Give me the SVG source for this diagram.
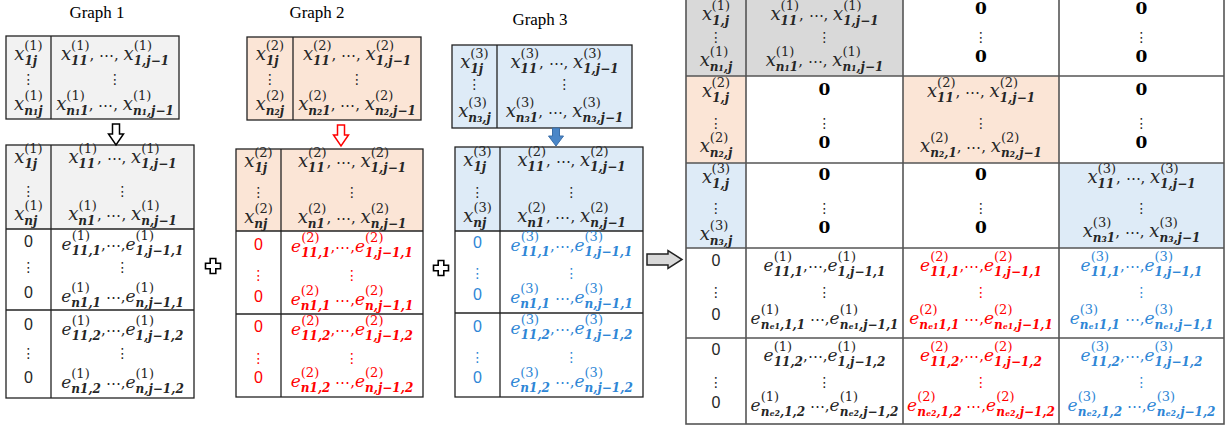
<svg xmlns="http://www.w3.org/2000/svg" width="1232" height="432" viewBox="0 0 1232 432">
<style>
text{text-anchor:middle}
.t{font-family:"Liberation Serif",serif;font-size:17px;fill:#000}
.m{font-family:"DejaVu Serif",serif;font-style:italic;font-size:18px;fill:#262626}
.e{font-size:17px}
.p{font-style:normal;font-size:13px}
.b{font-weight:bold;font-size:12px}
.s{font-style:normal;font-size:15px}
.d{font-family:"DejaVu Sans",sans-serif;font-size:14px;fill:#262626}
.z{font-family:"Liberation Sans",sans-serif;font-size:16px;fill:#262626}
.Z{font-family:"DejaVu Serif",serif;font-weight:bold;font-size:17px;fill:#000}
.r{fill:#ff0000}
.u{fill:#2e86d6}
.bx{stroke:#222;stroke-width:1.3}
.ln{stroke:#222;stroke-width:1.3}
.mx{stroke:#555;stroke-width:1.6}
.ml{stroke:#555;stroke-width:1.6}
</style>

<!-- titles -->
<text class="t" x="97" y="18">Graph 1</text>
<text class="t" x="317" y="18">Graph 2</text>
<text class="t" x="540" y="25">Graph 3</text>

<!-- Graph 1 top -->
<g id="g1-top">
<rect x="6" y="36" width="173" height="83" fill="#f2f2f2" class="bx"/>
<line x1="51" y1="36" x2="51" y2="119" class="ln"/>
<text class="m" x="28.5" y="60">x<tspan class="b" dy="5">1j</tspan><tspan class="p" dx="-12.9" dy="-15">(1)</tspan></text>
<text class="d" x="28.5" y="84">⋮</text>
<text class="m" x="28.5" y="110">x<tspan class="b" dy="5">n₁j</tspan><tspan class="p" dx="-18" dy="-15">(1)</tspan></text>
<text class="m" x="115" y="60">x<tspan class="b" dy="5">11</tspan><tspan class="p" dx="-16.7" dy="-15">(1)</tspan><tspan class="s" dy="10">, ⋯, </tspan>x<tspan class="p" dy="-10">(1)</tspan><tspan class="b" dx="-18.4" dy="15">1,j−1</tspan></text>
<text class="d" x="115" y="84">⋮</text>
<text class="m" x="115" y="110">x<tspan class="p" dy="-10">(1)</tspan><tspan class="b" dx="-18.4" dy="15">n₁1</tspan><tspan class="s" dy="-5">, ⋯, </tspan>x<tspan class="p" dy="-10">(1)</tspan><tspan class="b" dx="-18.4" dy="15">n₁,j−1</tspan></text>
</g>

<!-- Graph 1 bottom -->
<g id="g1-bottom">
<rect x="6" y="145" width="188" height="84" fill="#f2f2f2"/>
<rect x="6" y="145" width="188" height="253" fill="none" class="bx"/>
<line x1="51" y1="145" x2="51" y2="398" class="ln"/>
<line x1="6" y1="229" x2="194" y2="229" class="ln"/>
<line x1="6" y1="310" x2="194" y2="310" class="ln"/>
<text class="m" x="28.5" y="163">x<tspan class="b" dy="5">1j</tspan><tspan class="p" dx="-12.9" dy="-15">(1)</tspan></text>
<text class="d" x="28.5" y="196">⋮</text>
<text class="m" x="28.5" y="220">x<tspan class="b" dy="5">nj</tspan><tspan class="p" dx="-13" dy="-15">(1)</tspan></text>
<text class="m" x="122.5" y="163">x<tspan class="b" dy="5">11</tspan><tspan class="p" dx="-16.7" dy="-15">(1)</tspan><tspan class="s" dy="10">, ⋯, </tspan>x<tspan class="p" dy="-10">(1)</tspan><tspan class="b" dx="-18.4" dy="15">1,j−1</tspan></text>
<text class="d" x="122.5" y="196">⋮</text>
<text class="m" x="122.5" y="220">x<tspan class="b" dy="5">n1</tspan><tspan class="p" dx="-16.9" dy="-15">(1)</tspan><tspan class="s" dy="10">, ⋯, </tspan>x<tspan class="p" dy="-10">(1)</tspan><tspan class="b" dx="-18.4" dy="15">n,j−1</tspan></text>
<text class="z" x="28.5" y="247">0</text>
<text class="d" x="28.5" y="272">⋮</text>
<text class="z" x="28.5" y="298">0</text>
<text class="m e" x="122.5" y="250">e<tspan class="p" dy="-10">(1)</tspan><tspan class="b" dx="-18.4" dy="15">11,1</tspan><tspan class="s" dy="-5">,⋯,</tspan>e<tspan class="p" dy="-10">(1)</tspan><tspan class="b" dx="-18.4" dy="15">1,j−1,1</tspan></text>
<text class="d" x="122.5" y="272">⋮</text>
<text class="m e" x="122.5" y="302">e<tspan class="p" dy="-10">(1)</tspan><tspan class="b" dx="-18.4" dy="15">n1,1</tspan><tspan class="s" dy="-5"> ⋯,</tspan>e<tspan class="p" dy="-10">(1)</tspan><tspan class="b" dx="-18.4" dy="15">n,j−1,1</tspan></text>
<text class="z" x="28.5" y="330">0</text>
<text class="d" x="28.5" y="358">⋮</text>
<text class="z" x="28.5" y="383">0</text>
<text class="m e" x="122.5" y="335">e<tspan class="p" dy="-10">(1)</tspan><tspan class="b" dx="-18.4" dy="15">11,2</tspan><tspan class="s" dy="-5">,⋯,</tspan>e<tspan class="p" dy="-10">(1)</tspan><tspan class="b" dx="-18.4" dy="15">1,j−1,2</tspan></text>
<text class="d" x="122.5" y="358">⋮</text>
<text class="m e" x="122.5" y="388">e<tspan class="p" dy="-10">(1)</tspan><tspan class="b" dx="-18.4" dy="15">n1,2</tspan><tspan class="s" dy="-5"> ⋯,</tspan>e<tspan class="p" dy="-10">(1)</tspan><tspan class="b" dx="-18.4" dy="15">n,j−1,2</tspan></text>
</g>

<!-- Graph 2 top -->
<g id="g2-top">
<rect x="247" y="37" width="174" height="83" fill="#fbe5d6" class="bx"/>
<line x1="293" y1="37" x2="293" y2="120" class="ln"/>
<text class="m" x="270" y="60">x<tspan class="b" dy="5">1j</tspan><tspan class="p" dx="-12.9" dy="-15">(2)</tspan></text>
<text class="d" x="270" y="84">⋮</text>
<text class="m" x="270" y="110">x<tspan class="b" dy="5">n₂j</tspan><tspan class="p" dx="-18" dy="-15">(2)</tspan></text>
<text class="m" x="357" y="60">x<tspan class="b" dy="5">11</tspan><tspan class="p" dx="-16.7" dy="-15">(2)</tspan><tspan class="s" dy="10">, ⋯, </tspan>x<tspan class="p" dy="-10">(2)</tspan><tspan class="b" dx="-18.4" dy="15">1,j−1</tspan></text>
<text class="d" x="357" y="84">⋮</text>
<text class="m" x="357" y="110">x<tspan class="p" dy="-10">(2)</tspan><tspan class="b" dx="-18.4" dy="15">n₂1</tspan><tspan class="s" dy="-5">, ⋯, </tspan>x<tspan class="p" dy="-10">(2)</tspan><tspan class="b" dx="-18.4" dy="15">n₂,j−1</tspan></text>
</g>

<!-- Graph 2 bottom -->
<g id="g2-bottom">
<rect x="236" y="149" width="187" height="82" fill="#fbe5d6"/>
<rect x="236" y="149" width="187" height="248" fill="none" class="bx"/>
<line x1="281" y1="149" x2="281" y2="397" class="ln"/>
<line x1="236" y1="231" x2="423" y2="231" class="ln"/>
<line x1="236" y1="314" x2="423" y2="314" class="ln"/>
<text class="m" x="258.5" y="167">x<tspan class="b" dy="5">1j</tspan><tspan class="p" dx="-12.9" dy="-15">(2)</tspan></text>
<text class="d" x="258.5" y="197">⋮</text>
<text class="m" x="258.5" y="223">x<tspan class="b" dy="5">nj</tspan><tspan class="p" dx="-13" dy="-15">(2)</tspan></text>
<text class="m" x="352" y="167">x<tspan class="b" dy="5">11</tspan><tspan class="p" dx="-16.7" dy="-15">(2)</tspan><tspan class="s" dy="10">, ⋯, </tspan>x<tspan class="p" dy="-10">(2)</tspan><tspan class="b" dx="-18.4" dy="15">1,j−1</tspan></text>
<text class="d" x="352" y="197">⋮</text>
<text class="m" x="352" y="223">x<tspan class="b" dy="5">n1</tspan><tspan class="p" dx="-16.9" dy="-15">(2)</tspan><tspan class="s" dy="10">, ⋯, </tspan>x<tspan class="p" dy="-10">(2)</tspan><tspan class="b" dx="-18.4" dy="15">n,j−1</tspan></text>
<text class="z r" x="258.5" y="250">0</text>
<text class="d r" x="258.5" y="280">⋮</text>
<text class="z r" x="258.5" y="302">0</text>
<text class="m e r" x="352" y="252">e<tspan class="p" dy="-10">(2)</tspan><tspan class="b" dx="-18.4" dy="15">11,1</tspan><tspan class="s" dy="-5">,⋯,</tspan>e<tspan class="p" dy="-10">(2)</tspan><tspan class="b" dx="-18.4" dy="15">1,j−1,1</tspan></text>
<text class="d r" x="352" y="280">⋮</text>
<text class="m e r" x="352" y="305">e<tspan class="p" dy="-10">(2)</tspan><tspan class="b" dx="-18.4" dy="15">n1,1</tspan><tspan class="s" dy="-5"> ⋯,</tspan>e<tspan class="p" dy="-10">(2)</tspan><tspan class="b" dx="-18.4" dy="15">n,j−1,1</tspan></text>
<text class="z r" x="258.5" y="332">0</text>
<text class="d r" x="258.5" y="363">⋮</text>
<text class="z r" x="258.5" y="383">0</text>
<text class="m e r" x="352" y="335">e<tspan class="p" dy="-10">(2)</tspan><tspan class="b" dx="-18.4" dy="15">11,2</tspan><tspan class="s" dy="-5">,⋯,</tspan>e<tspan class="p" dy="-10">(2)</tspan><tspan class="b" dx="-18.4" dy="15">1,j−1,2</tspan></text>
<text class="d r" x="352" y="363">⋮</text>
<text class="m e r" x="352" y="387">e<tspan class="p" dy="-10">(2)</tspan><tspan class="b" dx="-18.4" dy="15">n1,2</tspan><tspan class="s" dy="-5"> ⋯,</tspan>e<tspan class="p" dy="-10">(2)</tspan><tspan class="b" dx="-18.4" dy="15">n,j−1,2</tspan></text>
</g>

<!-- Graph 3 top -->
<g id="g3-top">
<rect x="452" y="45" width="180" height="83" fill="#deebf7" class="bx"/>
<line x1="497" y1="45" x2="497" y2="128" class="ln"/>
<text class="m" x="474.5" y="68">x<tspan class="b" dy="5">1j</tspan><tspan class="p" dx="-12.9" dy="-15">(3)</tspan></text>
<text class="d" x="474.5" y="89">⋮</text>
<text class="m" x="474.5" y="117">x<tspan class="p" dy="-10">(3)</tspan><tspan class="b" dx="-18.4" dy="15">n₃,j</tspan></text>
<text class="m" x="564.5" y="68">x<tspan class="b" dy="5">11</tspan><tspan class="p" dx="-16.7" dy="-15">(3)</tspan><tspan class="s" dy="10">, ⋯, </tspan>x<tspan class="p" dy="-10">(3)</tspan><tspan class="b" dx="-18.4" dy="15">1,j−1</tspan></text>
<text class="d" x="564.5" y="89">⋮</text>
<text class="m" x="564.5" y="117">x<tspan class="p" dy="-10">(3)</tspan><tspan class="b" dx="-18.4" dy="15">n₃1</tspan><tspan class="s" dy="-5">, ⋯, </tspan>x<tspan class="p" dy="-10">(3)</tspan><tspan class="b" dx="-18.4" dy="15">n₃,j−1</tspan></text>
</g>

<!-- Graph 3 bottom -->
<g id="g3-bottom">
<rect x="455" y="147" width="188" height="84" fill="#deebf7"/>
<rect x="455" y="147" width="188" height="250" fill="none" class="bx"/>
<line x1="500" y1="147" x2="500" y2="397" class="ln"/>
<line x1="455" y1="231" x2="643" y2="231" class="ln"/>
<line x1="455" y1="313" x2="643" y2="313" class="ln"/>
<text class="m" x="477.5" y="166">x<tspan class="b" dy="5">1j</tspan><tspan class="p" dx="-12.9" dy="-15">(3)</tspan></text>
<text class="d" x="477.5" y="197">⋮</text>
<text class="m" x="477.5" y="222">x<tspan class="b" dy="5">nj</tspan><tspan class="p" dx="-13" dy="-15">(3)</tspan></text>
<text class="m" x="571.5" y="166">x<tspan class="b" dy="5">11</tspan><tspan class="p" dx="-16.7" dy="-15">(2)</tspan><tspan class="s" dy="10">, ⋯, </tspan>x<tspan class="p" dy="-10">(2)</tspan><tspan class="b" dx="-18.4" dy="15">1,j−1</tspan></text>
<text class="d" x="571.5" y="197">⋮</text>
<text class="m" x="571.5" y="222">x<tspan class="b" dy="5">n1</tspan><tspan class="p" dx="-16.9" dy="-15">(2)</tspan><tspan class="s" dy="10">, ⋯, </tspan>x<tspan class="p" dy="-10">(2)</tspan><tspan class="b" dx="-18.4" dy="15">n,j−1</tspan></text>
<text class="z u" x="477.5" y="248">0</text>
<text class="d u" x="477.5" y="278">⋮</text>
<text class="z u" x="477.5" y="300">0</text>
<text class="m e u" x="571.5" y="251">e<tspan class="p" dy="-10">(3)</tspan><tspan class="b" dx="-18.4" dy="15">11,1</tspan><tspan class="s" dy="-5">,⋯,</tspan>e<tspan class="p" dy="-10">(3)</tspan><tspan class="b" dx="-18.4" dy="15">1,j−1,1</tspan></text>
<text class="d u" x="571.5" y="278">⋮</text>
<text class="m e u" x="571.5" y="303">e<tspan class="p" dy="-10">(3)</tspan><tspan class="b" dx="-18.4" dy="15">n1,1</tspan><tspan class="s" dy="-5"> ⋯,</tspan>e<tspan class="p" dy="-10">(3)</tspan><tspan class="b" dx="-18.4" dy="15">n,j−1,1</tspan></text>
<text class="z u" x="477.5" y="332">0</text>
<text class="d u" x="477.5" y="362">⋮</text>
<text class="z u" x="477.5" y="383">0</text>
<text class="m e u" x="571.5" y="334">e<tspan class="p" dy="-10">(3)</tspan><tspan class="b" dx="-18.4" dy="15">11,2</tspan><tspan class="s" dy="-5">,⋯,</tspan>e<tspan class="p" dy="-10">(3)</tspan><tspan class="b" dx="-18.4" dy="15">1,j−1,2</tspan></text>
<text class="d u" x="571.5" y="362">⋮</text>
<text class="m e u" x="571.5" y="387">e<tspan class="p" dy="-10">(3)</tspan><tspan class="b" dx="-18.4" dy="15">n1,2</tspan><tspan class="s" dy="-5"> ⋯,</tspan>e<tspan class="p" dy="-10">(3)</tspan><tspan class="b" dx="-18.4" dy="15">n,j−1,2</tspan></text>
</g>

<!-- plus signs -->
<g id="plus-1">
<polygon points="210.2,258.5 215.8,258.5 215.8,263.2 220.5,263.2 220.5,268.8 215.8,268.8 215.8,273.5 210.2,273.5 210.2,268.8 205.5,268.8 205.5,263.2 210.2,263.2" fill="#fff" stroke="#000" stroke-width="1.6"/>
</g>
<g id="plus-2">
<polygon points="438.2,260.5 443.8,260.5 443.8,265.2 448.5,265.2 448.5,270.8 443.8,270.8 443.8,275.5 438.2,275.5 438.2,270.8 433.5,270.8 433.5,265.2 438.2,265.2" fill="#fff" stroke="#000" stroke-width="1.6"/>
</g>

<!-- connectors -->
<g id="connectors">
<polygon points="112.5,124 119.5,124 119.5,134 123.5,134 116,145 108.5,134 112.5,134" fill="#fff" stroke="#000" stroke-width="1.5"/>
<polygon points="337.5,125 344.5,125 344.5,135 348.5,135 341,146 333.5,135 337.5,135" fill="#fff" stroke="#ff0000" stroke-width="1.5"/>
<polygon points="552.5,128 559.5,128 559.5,136 563.5,136 556,146 548.5,136 552.5,136" fill="#4a86c8" stroke="#3a6ea8" stroke-width="1"/>
<polygon points="647,254 668,254 668,250.5 682,259.5 668,268.5 668,265 647,265" fill="#d9d9d9" stroke="#222" stroke-width="1.5"/>
</g>

<!-- Combined matrix -->
<g id="combined">
<rect x="686" y="-10" width="60" height="86" fill="#d9d9d9"/>
<rect x="746" y="-10" width="157" height="86" fill="#d9d9d9"/>
<rect x="686" y="76" width="60" height="87" fill="#fbe5d6"/>
<rect x="903" y="76" width="156" height="87" fill="#fbe5d6"/>
<rect x="686" y="163" width="60" height="85" fill="#deebf7"/>
<rect x="1059" y="163" width="165" height="85" fill="#deebf7"/>
<rect x="686" y="-10" width="538" height="434" fill="none" class="mx"/>
<line x1="746" y1="-10" x2="746" y2="424" class="ml"/>
<line x1="903" y1="-10" x2="903" y2="424" class="ml"/>
<line x1="1059" y1="-10" x2="1059" y2="424" class="ml"/>
<line x1="686" y1="76" x2="1224" y2="76" class="ml"/>
<line x1="686" y1="163" x2="1224" y2="163" class="ml"/>
<line x1="686" y1="248" x2="1224" y2="248" class="ml"/>
<line x1="686" y1="338" x2="1224" y2="338" class="ml"/>

<!-- row 1 -->
<text class="m" x="716" y="20">x<tspan class="b" dy="5">1,j</tspan><tspan class="p" dx="-17.4" dy="-15">(1)</tspan></text>
<text class="d" x="716" y="42">⋮</text>
<text class="m" x="716" y="66">x<tspan class="p" dy="-10">(1)</tspan><tspan class="b" dx="-18.4" dy="15">n₁,j</tspan></text>
<text class="m" x="824.5" y="20">x<tspan class="b" dy="5">11</tspan><tspan class="p" dx="-16.7" dy="-15">(1)</tspan><tspan class="s" dy="10">, ⋯, </tspan>x<tspan class="p" dy="-10">(1)</tspan><tspan class="b" dx="-18.4" dy="15">1,j−1</tspan></text>
<text class="d" x="824.5" y="42">⋮</text>
<text class="m" x="824.5" y="66">x<tspan class="p" dy="-10">(1)</tspan><tspan class="b" dx="-18.4" dy="15">n₁1</tspan><tspan class="s" dy="-5">, ⋯, </tspan>x<tspan class="p" dy="-10">(1)</tspan><tspan class="b" dx="-18.4" dy="15">n₁,j−1</tspan></text>
<text class="Z" x="981" y="14">0</text>
<text class="d" x="981" y="42">⋮</text>
<text class="Z" x="981" y="62">0</text>
<text class="Z" x="1141.5" y="14">0</text>
<text class="d" x="1141.5" y="42">⋮</text>
<text class="Z" x="1141.5" y="62">0</text>

<!-- row 2 -->
<text class="m" x="716" y="97">x<tspan class="b" dy="5">1,j</tspan><tspan class="p" dx="-17.4" dy="-15">(2)</tspan></text>
<text class="d" x="716" y="128">⋮</text>
<text class="m" x="716" y="152">x<tspan class="p" dy="-10">(2)</tspan><tspan class="b" dx="-18.4" dy="15">n₂,j</tspan></text>
<text class="Z" x="824.5" y="95">0</text>
<text class="d" x="824.5" y="128">⋮</text>
<text class="Z" x="824.5" y="148">0</text>
<text class="m" x="981" y="97">x<tspan class="b" dy="5">11</tspan><tspan class="p" dx="-16.7" dy="-15">(2)</tspan><tspan class="s" dy="10">, ⋯, </tspan>x<tspan class="p" dy="-10">(2)</tspan><tspan class="b" dx="-18.4" dy="15">1,j−1</tspan></text>
<text class="d" x="981" y="128">⋮</text>
<text class="m" x="981" y="152">x<tspan class="p" dy="-10">(2)</tspan><tspan class="b" dx="-18.4" dy="15">n₂,1</tspan><tspan class="s" dy="-5">, ⋯, </tspan>x<tspan class="p" dy="-10">(2)</tspan><tspan class="b" dx="-18.4" dy="15">n₂,j−1</tspan></text>
<text class="Z" x="1141.5" y="95">0</text>
<text class="d" x="1141.5" y="128">⋮</text>
<text class="Z" x="1141.5" y="148">0</text>

<!-- row 3 -->
<text class="m" x="716" y="183">x<tspan class="b" dy="5">1,j</tspan><tspan class="p" dx="-17.4" dy="-15">(3)</tspan></text>
<text class="d" x="716" y="213">⋮</text>
<text class="m" x="716" y="240">x<tspan class="p" dy="-10">(3)</tspan><tspan class="b" dx="-18.4" dy="15">n₃,j</tspan></text>
<text class="Z" x="824.5" y="180">0</text>
<text class="d" x="824.5" y="213">⋮</text>
<text class="Z" x="824.5" y="233">0</text>
<text class="Z" x="981" y="180">0</text>
<text class="d" x="981" y="213">⋮</text>
<text class="Z" x="981" y="233">0</text>
<text class="m" x="1141.5" y="183">x<tspan class="b" dy="5">11</tspan><tspan class="p" dx="-16.7" dy="-15">(3)</tspan><tspan class="s" dy="10">, ⋯, </tspan>x<tspan class="p" dy="-10">(3)</tspan><tspan class="b" dx="-18.4" dy="15">1,j−1</tspan></text>
<text class="d" x="1141.5" y="213">⋮</text>
<text class="m" x="1141.5" y="237">x<tspan class="p" dy="-10">(3)</tspan><tspan class="b" dx="-18.4" dy="15">n₃1</tspan><tspan class="s" dy="-5">, ⋯, </tspan>x<tspan class="p" dy="-10">(3)</tspan><tspan class="b" dx="-18.4" dy="15">n₃,j−1</tspan></text>

<!-- row 4 -->
<text class="z" x="716" y="266">0</text>
<text class="d" x="716" y="297">⋮</text>
<text class="z" x="716" y="320">0</text>
<text class="m e" x="824.5" y="271">e<tspan class="p" dy="-10">(1)</tspan><tspan class="b" dx="-18.4" dy="15">11,1</tspan><tspan class="s" dy="-5">,⋯,</tspan>e<tspan class="p" dy="-10">(1)</tspan><tspan class="b" dx="-18.4" dy="15">1,j−1,1</tspan></text>
<text class="d" x="824.5" y="297">⋮</text>
<text class="m e" x="824.5" y="324">e<tspan class="p" dy="-10">(1)</tspan><tspan class="b" dx="-18.4" dy="15">nₑ₁,1,1</tspan><tspan class="s" dy="-5"> ⋯,</tspan>e<tspan class="p" dy="-10">(1)</tspan><tspan class="b" dx="-18.4" dy="15">nₑ₁,j−1,1</tspan></text>
<text class="m e r" x="981" y="271">e<tspan class="p" dy="-10">(2)</tspan><tspan class="b" dx="-18.4" dy="15">11,1</tspan><tspan class="s" dy="-5">,⋯,</tspan>e<tspan class="p" dy="-10">(2)</tspan><tspan class="b" dx="-18.4" dy="15">1,j−1,1</tspan></text>
<text class="d r" x="981" y="297">⋮</text>
<text class="m e r" x="981" y="324">e<tspan class="p" dy="-10">(2)</tspan><tspan class="b" dx="-18.4" dy="15">nₑ₁1,1</tspan><tspan class="s" dy="-5"> ⋯,</tspan>e<tspan class="p" dy="-10">(2)</tspan><tspan class="b" dx="-18.4" dy="15">nₑ₁,j−1,1</tspan></text>
<text class="m e u" x="1141.5" y="271">e<tspan class="p" dy="-10">(3)</tspan><tspan class="b" dx="-18.4" dy="15">11,1</tspan><tspan class="s" dy="-5">,⋯,</tspan>e<tspan class="p" dy="-10">(3)</tspan><tspan class="b" dx="-18.4" dy="15">1,j−1,1</tspan></text>
<text class="d u" x="1141.5" y="297">⋮</text>
<text class="m e u" x="1141.5" y="324">e<tspan class="p" dy="-10">(3)</tspan><tspan class="b" dx="-18.4" dy="15">nₑ₁1,1</tspan><tspan class="s" dy="-5"> ⋯,</tspan>e<tspan class="p" dy="-10">(3)</tspan><tspan class="b" dx="-18.4" dy="15">nₑ₁,j−1,1</tspan></text>

<!-- row 5 -->
<text class="z" x="716" y="355">0</text>
<text class="d" x="716" y="387">⋮</text>
<text class="z" x="716" y="408">0</text>
<text class="m e" x="824.5" y="361">e<tspan class="p" dy="-10">(1)</tspan><tspan class="b" dx="-18.4" dy="15">11,2</tspan><tspan class="s" dy="-5">,⋯,</tspan>e<tspan class="p" dy="-10">(1)</tspan><tspan class="b" dx="-18.4" dy="15">1,j−1,2</tspan></text>
<text class="d" x="824.5" y="387">⋮</text>
<text class="m e" x="824.5" y="411">e<tspan class="p" dy="-10">(1)</tspan><tspan class="b" dx="-18.4" dy="15">nₑ₂,1,2</tspan><tspan class="s" dy="-5"> ⋯,</tspan>e<tspan class="p" dy="-10">(1)</tspan><tspan class="b" dx="-18.4" dy="15">nₑ₂,j−1,2</tspan></text>
<text class="m e r" x="981" y="361">e<tspan class="p" dy="-10">(2)</tspan><tspan class="b" dx="-18.4" dy="15">11,2</tspan><tspan class="s" dy="-5">,⋯,</tspan>e<tspan class="p" dy="-10">(2)</tspan><tspan class="b" dx="-18.4" dy="15">1,j−1,2</tspan></text>
<text class="d r" x="981" y="387">⋮</text>
<text class="m e r" x="981" y="411">e<tspan class="p" dy="-10">(2)</tspan><tspan class="b" dx="-18.4" dy="15">nₑ₂,1,2</tspan><tspan class="s" dy="-5"> ⋯,</tspan>e<tspan class="p" dy="-10">(2)</tspan><tspan class="b" dx="-18.4" dy="15">nₑ₂,j−1,2</tspan></text>
<text class="m e u" x="1141.5" y="361">e<tspan class="p" dy="-10">(3)</tspan><tspan class="b" dx="-18.4" dy="15">11,2</tspan><tspan class="s" dy="-5">,⋯,</tspan>e<tspan class="p" dy="-10">(3)</tspan><tspan class="b" dx="-18.4" dy="15">1,j−1,2</tspan></text>
<text class="d u" x="1141.5" y="387">⋮</text>
<text class="m e u" x="1141.5" y="411">e<tspan class="p" dy="-10">(3)</tspan><tspan class="b" dx="-18.4" dy="15">nₑ₂,1,2</tspan><tspan class="s" dy="-5"> ⋯,</tspan>e<tspan class="p" dy="-10">(3)</tspan><tspan class="b" dx="-18.4" dy="15">nₑ₂,j−1,2</tspan></text>
</g>
</svg>
